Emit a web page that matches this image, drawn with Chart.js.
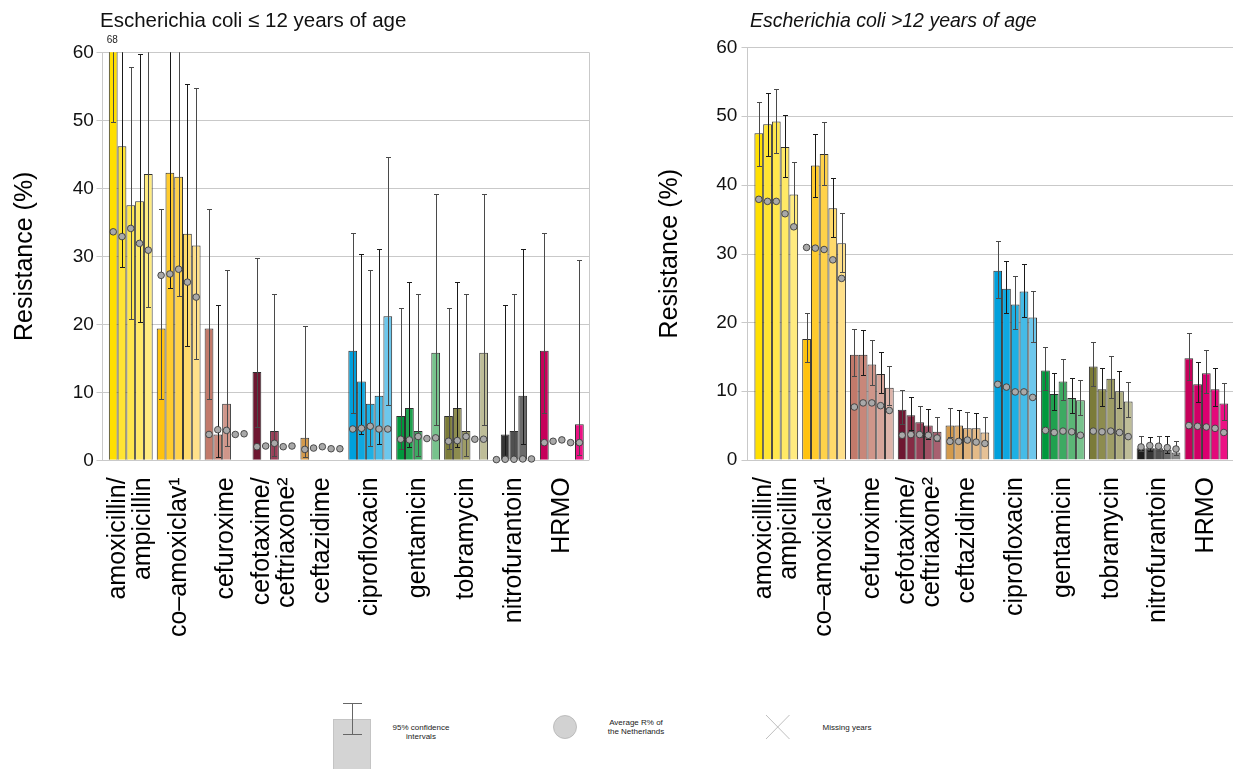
<!DOCTYPE html>
<html>
<head>
<meta charset="utf-8">
<script src="https://cdn.jsdelivr.net/npm/chart.js@4/dist/chart.umd.min.js"></script>
<style>
  body { margin: 0; background: #fff; width: 1233px; height: 769px; overflow: hidden; position: relative;
         font-family: "Liberation Sans", Arial, sans-serif; }
  canvas { position: absolute; top: 0; }
  #young { left: 0; }
  #adult { left: 615px; }
  #key { position: absolute; left: 0; top: 690px; }
</style>
</head>
<body>
<canvas id="young" width="615" height="690"></canvas>
<canvas id="adult" width="618" height="690"></canvas>

<svg id="key" width="1233" height="79" font-family="Liberation Sans, Arial, sans-serif" font-size="8" fill="#222">
  <rect x="333.5" y="29.5" width="37" height="52" fill="#d4d4d4" stroke="#c4c4c4" stroke-width="1"/>
  <path d="M352.5 13.5 V44.5 M343 13.5 H362 M343 44.5 H362" stroke="#666" stroke-width="1" fill="none"/>
  <text x="421" y="40" text-anchor="middle">95% confidence</text>
  <text x="421" y="49" text-anchor="middle">intervals</text>
  <circle cx="565" cy="37" r="11.5" fill="#d2d2d2" stroke="#b4b4b4" stroke-width="0.8"/>
  <text x="636" y="35" text-anchor="middle">Average R% of</text>
  <text x="636" y="44" text-anchor="middle">the Netherlands</text>
  <path d="M766 25 L789.5 49 M789.5 25 L766 49" stroke="#b8b8b8" stroke-width="0.9" fill="none"/>
  <text x="847" y="40" text-anchor="middle">Missing years</text>
</svg>

<script>
// Antibiotic groups along the x axis (multi-line names are split into arrays)
const categories = [
  ['amoxicillin/', 'ampicillin'],
  'co\u2013amoxiclav\u00b9',
  'cefuroxime',
  ['cefotaxime/', 'ceftriaxone\u00b2'],
  'ceftazidime',
  'ciprofloxacin',
  'gentamicin',
  'tobramycin',
  'nitrofurantoin',
  'HRMO'
];
const yearNames = ['year 1', 'year 2', 'year 3', 'year 4', 'year 5'];
const yTicks = [0, 10, 20, 30, 40, 50, 60];

// E. coli, patients <= 12 years: resistance % per year (rows) and antibiotic (columns)
const youngResistance = [
  [68,   19.4, 19.4, 13.0, 3.3,  16.1, 6.5,  6.5,  null, 16.1],
  [46.2, 42.3, 3.8,  null, null, 11.6, 7.7,  7.7,  3.8,  null],
  [37.5, 41.7, 8.3,  4.3,  null, 8.3,  4.3,  4.3,  4.3,  null],
  [38.1, 33.3, null, null, null, 9.5,  null, null, 9.5,  null],
  [42.1, 31.6, null, null, null, 21.2, 15.8, 15.8, null, 5.3]
];
const youngLow = [
  [49.7, 9.0,  9.0,  4.9,  0.5,  6.9,  1.6,  1.6,  null, 6.9],
  [28.4, 25.3, 0.5,  null, null, 3.8,  1.9,  1.9,  0.1,  null],
  [20.8, 24.1, 2.1,  0.6,  null, 2.1,  0.6,  0.6,  0.1,  null],
  [20.3, 16.8, null, null, null, 2.4,  null, null, 2.4,  null],
  [22.6, 14.9, null, null, null, 8.1,  5.2,  5.2,  null, 0.8]
];
const youngHigh = [
  [85,   36.9, 36.9, 29.7, 19.7, 33.4, 22.4, 22.4, null, 33.4],
  [65,   61,   22.8, null, null, 30.3, 26.2, 26.2, 22.8, null],
  [57.8, 60.5, 28.0, 24.4, null, 28.0, 24.4, 24.4, 24.4, null],
  [59.8, 55.4, null, null, null, 31.1, null, null, 31.1, null],
  [62,   54.8, null, null, null, 44.6, 39.2, 39.2, null, 29.4]
];
const youngNational = [
  [33.6, 27.2, 3.8, 2.0, 1.6, 4.6, 3.1, 2.8, 0.1,  2.6],
  [32.9, 27.4, 4.5, 2.1, 1.8, 4.7, 3.0, 2.9, 0.15, 2.8],
  [34.1, 28.1, 4.4, 2.5, 2.0, 5.0, 3.5, 3.5, 0.15, 3.0],
  [31.9, 26.2, 3.8, 2.0, 1.7, 4.6, 3.2, 3.1, 0.2,  2.6],
  [30.9, 24.0, 3.9, 2.1, 1.7, 4.6, 3.3, 3.1, 0.2,  2.6]
];

// E. coli, patients > 12 years
const adultResistance = [
  [47.5, 17.6, 15.3, 7.3, 5.0, 27.5, 13.0, 13.6, 1.7, 14.8],
  [48.8, 42.8, 15.3, 6.5, 5.0, 24.9, 9.6,  10.3, 1.7, 11.0],
  [49.2, 44.5, 13.9, 5.5, 4.6, 22.6, 11.4, 11.8, 1.7, 12.6],
  [45.5, 36.6, 12.5, 5.0, 4.6, 24.5, 9.0,  10.0, 1.5, 10.3],
  [38.6, 31.5, 10.5, 4.1, 4.0, 20.7, 8.7,  8.5,  1.1, 8.2]
];
const adultLow = [
  [42.7, 14.2, 12.2, 5.2, 3.3, 23.6, 10.2, 10.8, 1.3, 11.7],
  [44.2, 38.3, 12.3, 4.3, 3.1, 21.3, 7.2,  7.8,  1.3, 8.4],
  [44.6, 40.0, 10.9, 3.4, 2.9, 19.0, 8.7,  9.0,  1.3, 9.7],
  [41.1, 32.4, 9.7,  3.0, 2.7, 20.8, 6.8,  7.5,  1.0, 7.8],
  [34.0, 27.3, 8.0,  2.7, 2.3, 17.2, 6.5,  6.3,  0.7, 5.8]
];
const adultHigh = [
  [52.1, 21.4, 19.0, 10.2, 7.5, 31.9, 16.4, 17.2, 3.5, 18.4],
  [53.4, 47.4, 18.9, 9.2,  7.3, 29.0, 12.7, 13.4, 3.3, 14.3],
  [54.0, 49.2, 17.4, 7.9,  7.0, 26.8, 14.7, 15.1, 3.5, 16.0],
  [50.1, 41.0, 15.7, 7.4,  6.9, 28.5, 11.9, 13.0, 3.5, 13.4],
  [43.3, 35.9, 13.7, 6.3,  6.3, 24.6, 11.7, 11.4, 2.7, 11.2]
];
const adultNational = [
  [37.9, 30.9, 7.7, 3.6, 2.7, 11.0, 4.3, 4.2, 1.9, 5.0],
  [37.6, 30.8, 8.3, 3.7, 2.7, 10.6, 4.0, 4.1, 2.1, 4.9],
  [37.6, 30.6, 8.3, 3.7, 2.9, 9.9,  4.2, 4.2, 2.0, 4.8],
  [35.8, 29.1, 7.9, 3.6, 2.6, 9.9,  4.1, 4.0, 1.8, 4.6],
  [33.9, 26.4, 7.2, 3.2, 2.4, 9.1,  3.6, 3.4, 1.6, 4.0]
];

// Five shades per antibiotic, darkest for the first year
const shades = [
  ['#FFDF00', '#FFE433', '#FFE74D', '#FFE966', '#FFEB80'],
  ['#FFC20E', '#FFCB2E', '#FFD24A', '#FFDA6B', '#FFE08A'],
  ['#C27A6B', '#C8877A', '#CF968A', '#D6A59A', '#DDB4AA'],
  ['#6E1731', '#862B45', '#973F57', '#A05064', '#A86070'],
  ['#D39A4C', '#DCAA6A', '#E0B27A', '#E3BA88', '#E6C196'],
  ['#00A0DC', '#0FA8E0', '#1EB0E4', '#45BBE7', '#6DC7EC'],
  ['#00983D', '#20A14F', '#3DAA62', '#5BB676', '#78C38D'],
  ['#7B7B39', '#8D8C4F', '#9E9D66', '#AEAD7F', '#BEBD98'],
  ['#1E1E1E', '#363636', '#505050', '#6A6A6A', '#888888'],
  ['#C6005A', '#D10066', '#DB0070', '#E3097A', '#EC1184']
];

const FONT = '"Liberation Sans", Arial, sans-serif';

// Draws the frame, the confidence intervals, the national averages, the
// vertical category names and the title
function overlay(cfg) {
  return {
    id: 'overlay',
    beforeDatasetsDraw(chart) {
      const { ctx, chartArea: a, scales: { y } } = chart;
      const axisX = Math.round(a.left - cfg.axisGap) + 0.5;
      const gridRight = cfg.gridToEdge ? chart.width : a.right + cfg.rightGap;
      ctx.save();
      ctx.strokeStyle = '#C9C9C9';
      ctx.lineWidth = 1;
      yTicks.forEach(t => {
        const py = Math.round(y.getPixelForValue(t)) + 0.5;
        ctx.beginPath();
        ctx.moveTo(axisX - 6, py);
        ctx.lineTo(gridRight, py);
        ctx.stroke();
      });
      ctx.beginPath();
      ctx.moveTo(axisX, y.getPixelForValue(60));
      ctx.lineTo(axisX, y.getPixelForValue(0));
      if (!cfg.gridToEdge) {
        const rx = Math.round(gridRight) + 0.5;
        ctx.moveTo(rx, y.getPixelForValue(60));
        ctx.lineTo(rx, y.getPixelForValue(0));
      }
      ctx.stroke();
      ctx.restore();
    },
    afterDatasetsDraw(chart) {
      const { ctx, chartArea: a, scales: { y } } = chart;
      ctx.save();
      ctx.beginPath();
      ctx.rect(a.left - 10, a.top, a.right - a.left + 20, a.bottom - a.top + 10);
      ctx.clip();
      chart.data.datasets.forEach((ds, i) => {
        chart.getDatasetMeta(i).data.forEach((bar, j) => {
          const lo = cfg.low[i][j], hi = cfg.high[i][j];
          if (lo == null || hi == null) return;
          const x = Math.round(bar.x) + 0.5;
          const yHi = Math.round(y.getPixelForValue(hi)) + 0.5;
          const yLo = Math.round(y.getPixelForValue(lo)) + 0.5;
          ctx.strokeStyle = i % 2 === 0 ? '#4a4a4a' : '#1a1a1a';
          ctx.lineWidth = 1;
          ctx.beginPath();
          ctx.moveTo(x, yHi); ctx.lineTo(x, yLo);
          ctx.moveTo(x - 2.5, yHi); ctx.lineTo(x + 2.5, yHi);
          ctx.moveTo(x - 2.5, yLo); ctx.lineTo(x + 2.5, yLo);
          ctx.stroke();
        });
      });
      chart.data.datasets.forEach((ds, i) => {
        chart.getDatasetMeta(i).data.forEach((bar, j) => {
          const v = cfg.national[i][j];
          if (v == null) return;
          ctx.beginPath();
          ctx.arc(bar.x, y.getPixelForValue(v), 3.3, 0, Math.PI * 2);
          ctx.fillStyle = '#A9A9A9';
          ctx.strokeStyle = '#3c3c3c';
          ctx.lineWidth = 0.9;
          ctx.fill();
          ctx.stroke();
        });
      });
      ctx.restore();

      // values that run past the top of the axis are written above it
      ctx.save();
      ctx.font = '10px ' + FONT;
      ctx.fillStyle = '#222';
      ctx.textAlign = 'center';
      ctx.textBaseline = 'middle';
      chart.data.datasets.forEach((ds, i) => {
        chart.getDatasetMeta(i).data.forEach((bar, j) => {
          const v = ds.data[j];
          if (v != null && v > y.max) ctx.fillText(String(v), bar.x - 1, a.top - 12);
        });
      });
      ctx.restore();
    },
    afterDraw(chart) {
      const { ctx, chartArea: a, scales: { x } } = chart;
      ctx.save();
      ctx.font = (cfg.italic ? 'italic ' : '') + cfg.titleSize + 'px ' + FONT;
      ctx.fillStyle = '#111';
      ctx.textAlign = 'left';
      ctx.textBaseline = 'alphabetic';
      ctx.fillText(cfg.title, cfg.titleX, 27);
      ctx.restore();

      // category names, reading upwards and ending just below the axis
      ctx.save();
      ctx.font = '25px ' + FONT;
      ctx.fillStyle = '#000';
      ctx.textAlign = 'right';
      ctx.textBaseline = 'middle';
      const lineGap = 25;
      chart.data.labels.forEach((label, i) => {
        const lines = Array.isArray(label) ? label : [label];
        const cx = x.getPixelForValue(i);
        lines.forEach((line, k) => {
          const lx = cx + (k - (lines.length - 1) / 2) * lineGap;
          ctx.save();
          ctx.translate(lx, a.bottom + 17);
          ctx.rotate(-Math.PI / 2);
          ctx.fillText(line, 0, 0);
          ctx.restore();
        });
      });
      ctx.restore();
    }
  };
}

function buildChart(id, values, low, high, national, layout, cfg) {
  const datasets = yearNames.map((name, i) => ({
    label: name,
    data: values[i],
    backgroundColor: shades.map(s => s[i]),
    borderColor: '#2f2f2f',
    borderWidth: 1,
    categoryPercentage: 0.915,
    barPercentage: 1.0
  }));
  return new Chart(document.getElementById(id), {
    type: 'bar',
    data: { labels: categories, datasets },
    options: {
      responsive: false,
      animation: false,
      devicePixelRatio: 1,
      layout: { padding: { left: 0, top: layout.top, right: layout.right, bottom: 0 } },
      plugins: { legend: { display: false }, tooltip: { enabled: false } },
      scales: {
        x: {
          grid: { display: false, drawTicks: false },
          border: { display: false },
          ticks: { display: false },
          afterFit(scale) { scale.height = layout.xHeight; }
        },
        y: {
          min: 0, max: 60,
          grid: { color: 'rgba(0,0,0,0)', drawTicks: true, tickLength: layout.tickLength },
          border: { display: false },
          ticks: { stepSize: 10, padding: 4, color: '#111', font: { family: FONT, size: 19 } },
          title: {
            display: true, text: 'Resistance (%)', color: '#000',
            font: { family: FONT, size: 25 }, padding: { top: layout.titlePad, bottom: 0 }
          },
          afterFit(scale) { scale.width = layout.yWidth; }
        }
      }
    },
    plugins: [overlay(Object.assign({ low, high, national }, cfg))]
  });
}

buildChart('young', youngResistance, youngLow, youngHigh, youngNational,
  { top: 52.3, right: 29.2, xHeight: 229.7, yWidth: 106.8, tickLength: 9, titlePad: 10 },
  { title: 'Escherichia coli \u2264 12 years of age', italic: false, titleX: 100, titleSize: 20.5,
    axisGap: 4.8, rightGap: 3.2, gridToEdge: false });

buildChart('adult', adultResistance, adultLow, adultHigh, adultNational,
  { top: 47.3, right: 2.8, xHeight: 230, yWidth: 137.4, tickLength: 11, titlePad: 40 },
  { title: 'Escherichia coli >12 years of age', italic: true, titleX: 135, titleSize: 19.5,
    axisGap: 5.4, rightGap: 0, gridToEdge: true });
</script>
</body>
</html>
